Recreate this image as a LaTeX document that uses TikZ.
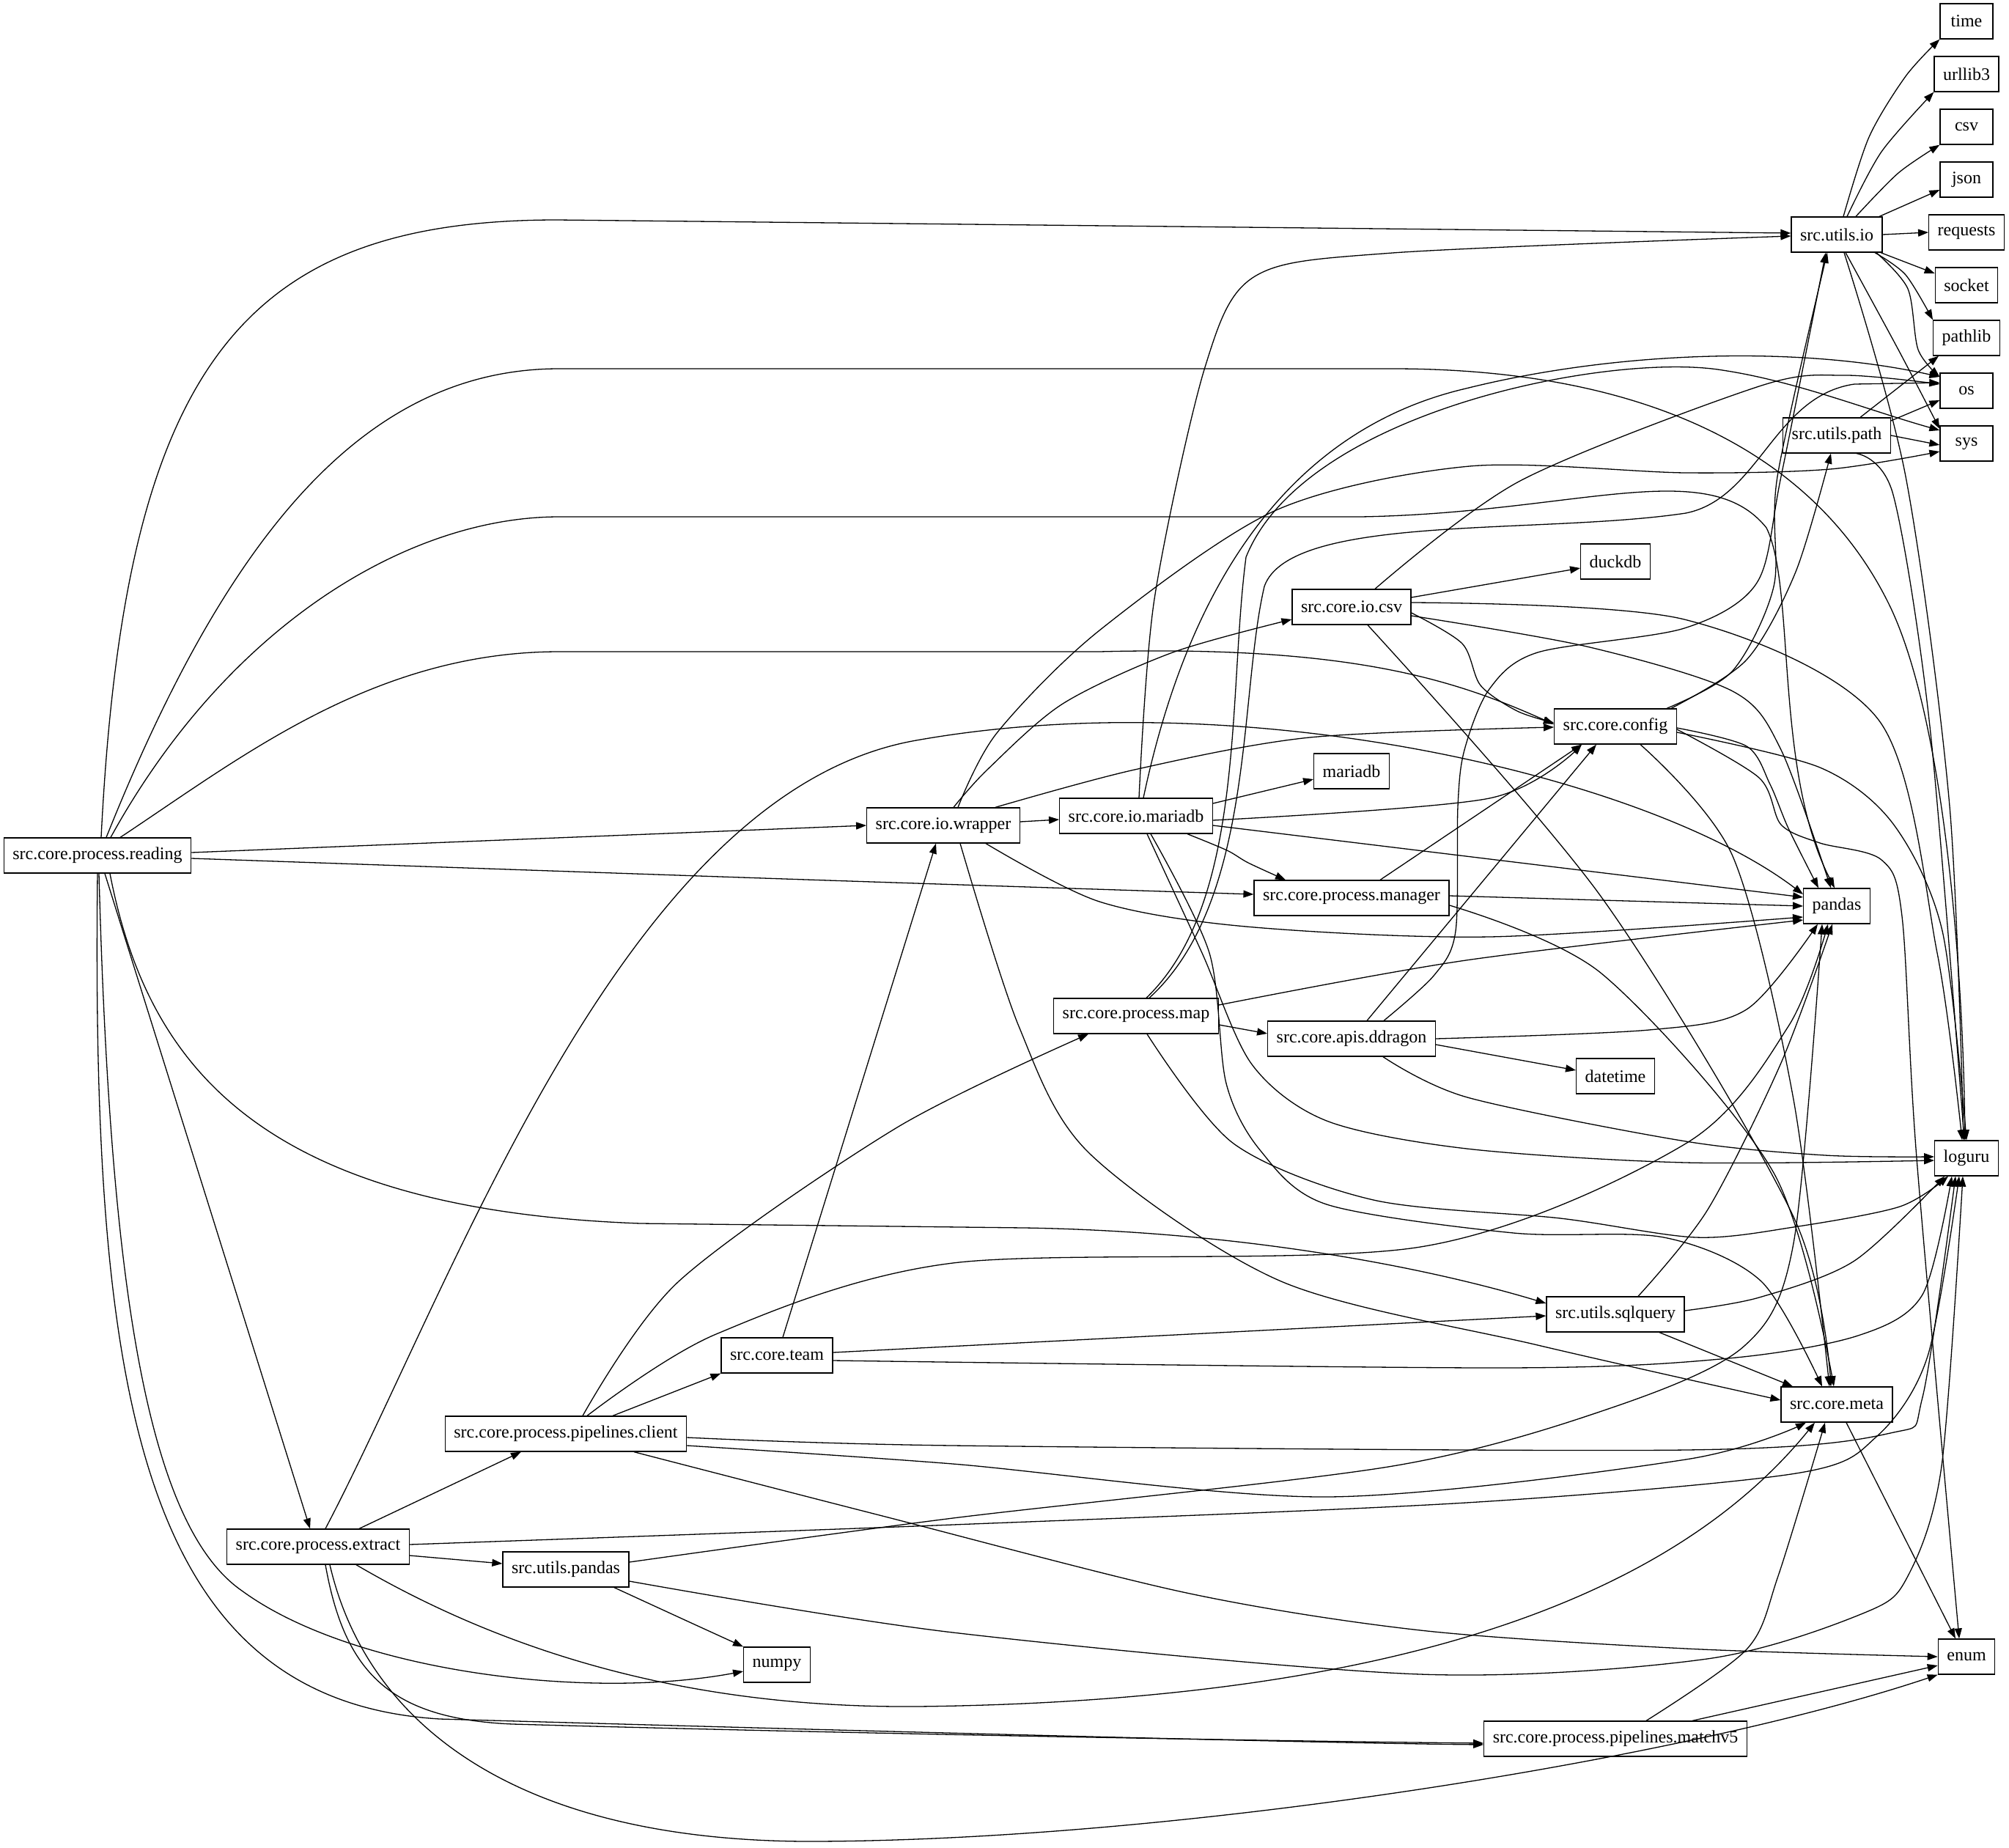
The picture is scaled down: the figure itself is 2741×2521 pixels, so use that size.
\documentclass[tikz,border=0pt]{standalone}
\usepackage{fontspec}
\setmainfont{Liberation Serif}
\usetikzlibrary{arrows.meta}
\begin{document}
\begin{tikzpicture}[x=1pt,y=-1pt,
  mod/.style={draw, line width=1.3pt, rectangle, minimum height=48pt, minimum width=72pt, inner xsep=12pt, inner ysep=0pt, font=\fontsize{24}{28}\selectfont},
  dep/.style={line width=1.3pt, -{Triangle[length=14pt,width=10pt]}}]
\fill[white] (0,0) rectangle (2741,2521);
\useasboundingbox (0,0) rectangle (2741,2521);
% nodes
\node[mod] (time) at (2683,29) {time};
\node[mod] (urllib3) at (2683,101) {urllib3};
\node[mod] (csvmod) at (2683,173) {csv};
\node[mod] (json) at (2683,245) {json};
\node[mod] (requests) at (2683,317) {requests};
\node[mod] (socket) at (2683,389) {socket};
\node[mod] (pathlib) at (2683,461) {pathlib};
\node[mod] (os) at (2683,533) {os};
\node[mod] (sys) at (2683,605) {sys};
\node[mod] (uio) at (2506,320) {src.utils.io};
\node[mod] (upath) at (2506,594) {src.utils.path};
\node[mod] (duckdb) at (2204,766) {duckdb};
\node[mod] (iocsv) at (1844,828) {src.core.io.csv};
\node[mod] (config) at (2204,991) {src.core.config};
\node[mod] (mariadbmod) at (1844,1052) {mariadb};
\node[mod] (wrapper) at (1287,1126) {src.core.io.wrapper};
\node[mod] (iomariadb) at (1550,1113) {src.core.io.mariadb};
\node[mod] (reading) at (133,1167) {src.core.process.reading};
\node[mod] (manager) at (1844,1225) {src.core.process.manager};
\node[mod] (pandas) at (2506,1236) {pandas};
\node[mod] (map) at (1550,1386) {src.core.process.map};
\node[mod] (ddragon) at (1844,1417) {src.core.apis.ddragon};
\node[mod] (datetime) at (2204,1468) {datetime};
\node[mod] (loguru) at (2683,1580) {loguru};
\node[mod] (sqlquery) at (2204,1793) {src.utils.sqlquery};
\node[mod] (team) at (1060,1849) {src.core.team};
\node[mod] (meta) at (2506,1916) {src.core.meta};
\node[mod] (client) at (772,1956) {src.core.process.pipelines.client};
\node[mod] (extract) at (434,2110) {src.core.process.extract};
\node[mod] (upandas) at (772,2141) {src.utils.pandas};
\node[mod] (numpy) at (1060,2271) {numpy};
\node[mod] (enum) at (2683,2260) {enum};
\node[mod] (matchv5) at (2204,2372) {src.core.process.pipelines.matchv5};
% src.utils.io
\draw[dep] plot[smooth] coordinates {([xshift=9pt]uio.north) (2550,187) (2600,104) (time.south west)};
\draw[dep] plot[smooth] coordinates {([xshift=14pt]uio.north) (2567,207) (urllib3.south west)};
\draw[dep] plot[smooth] coordinates {([xshift=26pt]uio.north) (2590,236) (csvmod.south west)};
\draw[dep] ([xshift=58pt]uio.north) -- ([yshift=-14pt]json.west);
\draw[dep] (uio.east) -- (requests.west);
\draw[dep] ([xshift=60pt]uio.south) -- ([yshift=16pt]socket.west);
\draw[dep] plot[smooth] coordinates {([xshift=52pt]uio.south) (2600,375) (pathlib.north west)};
\draw[dep] plot[smooth] coordinates {([xshift=54pt]uio.south) (2603,394) (2617,477) ([yshift=19pt]os.west)};
\draw[dep] plot[smooth] coordinates {([xshift=12pt]uio.south) (2590,477) ([yshift=20pt]sys.west)};
\draw[dep] plot[smooth] coordinates {([xshift=10pt]uio.south) (2600,650) (2660,1100) ([xshift=-4pt]loguru.north)};
% src.utils.path
\draw[dep] ([xshift=32pt]upath.north) -- ([xshift=8pt]pathlib.south west);
\draw[dep] ([yshift=20pt]upath.east) -- ([yshift=-13pt]os.west);
\draw[dep] (upath.east) -- ([yshift=-2pt]sys.west);
\draw[dep] plot[smooth] coordinates {([xshift=27pt]upath.south) (2583,675) (2633,991) ([xshift=-3pt]loguru.north)};
% src.core.config
\draw[dep] plot[smooth] coordinates {([xshift=70pt]config.north) (2364,915) (2420,800) (2425,650) ([xshift=-13pt]uio.south)};
\draw[dep] plot[smooth] coordinates {([xshift=76pt]config.north) (2383,900) (2450,780) ([xshift=-8pt]upath.south)};
\draw[dep] plot[smooth] coordinates {([yshift=-2pt]config.east) (2383,1018) (2415,1070) (2440,1130) ([xshift=-25pt]pandas.north)};
\draw[dep] plot[smooth] coordinates {([yshift=-4pt]config.east) (2400,1061) (2430,1125) (2483,1150) (2567,1173) (2595,1250) (2615,1580) ([xshift=-10pt]enum.north)};
\draw[dep] plot[smooth] coordinates {([yshift=-8pt]config.east) (2483,1047) (2583,1124) (2650,1270) (loguru.north)};
\draw[dep] plot[smooth] coordinates {([xshift=34pt]config.south) (2364,1168) (2447,1500) ([xshift=-10pt]meta.north)};
% src.core.io.csv
\draw[dep] ([yshift=13pt]iocsv.east) -- ([yshift=-9pt]duckdb.west);
\draw[dep] plot[smooth] coordinates {([yshift=-8pt]iocsv.east) (1995,878) (2020,935) (2070,970) ([yshift=5pt]config.west)};
\draw[dep] plot[smooth] coordinates {([yshift=-12pt]iocsv.east) (2165,882) (2364,943) (2430,1023) ([xshift=-8pt]pandas.north)};
\draw[dep] plot[smooth] coordinates {([yshift=6pt]iocsv.east) (2298,845) (2563,982) (2643,1300) ([xshift=-6pt]loguru.north)};
\draw[dep] plot[smooth] coordinates {([xshift=22pt]iocsv.south) (2185,1224) (2447,1660) ([xshift=-8pt]meta.north)};
\draw[dep] plot[smooth] coordinates {([xshift=32pt]iocsv.north) (2074,656) (2400,527) (2517,512) ([yshift=9pt]os.west)};
% src.core.io.mariadb
\draw[dep] ([yshift=17pt]iomariadb.east) -- ([yshift=-11pt]mariadbmod.west);
\draw[dep] plot[smooth] coordinates {([yshift=-6pt]iomariadb.east) (2032,1089) ([xshift=-46pt]config.south)};
\draw[dep] ([yshift=-13pt]iomariadb.east) -- ([yshift=12pt]pandas.west);
\draw[dep] plot[smooth] coordinates {([xshift=70pt]iomariadb.south) (1674,1160) (1703,1177) ([xshift=-90pt]manager.north)};
\draw[dep] plot[smooth] coordinates {([xshift=4pt]iomariadb.north) (1575,817) (1644,501) (1712,377) (1900,345) ([yshift=-2pt]uio.west)};
\draw[dep] ([xshift=10pt]iomariadb.north) .. controls (1600,900) and (1700,600) .. (2000,530) .. controls (2200,480) and (2450,470) .. ([yshift=19pt]os.west);
\draw[dep] plot[smooth] coordinates {([xshift=15pt]iomariadb.south) (1640,1300) (1708,1452) (1810,1529) (2001,1567) (2300,1586) ([yshift=-3pt]loguru.west)};
\draw[dep] plot[smooth] coordinates {([xshift=20pt]iomariadb.south) (1650,1300) (1673,1478) (1720,1570) (1810,1643) (2065,1682) (2270,1688) (2403,1748) ([xshift=-20pt]meta.north)};
% src.core.process.manager
\draw[dep] ([xshift=39pt]manager.north) -- ([xshift=-46pt]config.south);
\draw[dep] ([yshift=3pt]manager.east) -- (pandas.west);
\draw[dep] plot[smooth] coordinates {([yshift=-10pt]manager.east) (2185,1328) (2420,1600) ([xshift=-4pt]meta.north)};
% src.core.io.wrapper
\draw[dep] ([yshift=5pt]wrapper.east) -- ([yshift=-5pt]iomariadb.west);
\draw[dep] plot[smooth] coordinates {([xshift=14pt]wrapper.north) (1347,1050) (1450,960) (1600,890) ([yshift=-17pt]iocsv.west)};
\draw[dep] plot[smooth] coordinates {([xshift=71pt]wrapper.north) (1548,1050) (1787,1006) ([yshift=-1pt]config.west)};
\draw[dep] plot[smooth] coordinates {([xshift=58pt]wrapper.south) (1500,1230) (1700,1264) (2032,1278) ([yshift=-15pt]pandas.west)};
\draw[dep] plot[smooth] coordinates {([xshift=23pt]wrapper.south) (1390,1400) (1486,1573) (1748,1748) (2098,1835) ([yshift=6pt]meta.west)};
\draw[dep] plot[smooth] coordinates {([xshift=20pt]wrapper.north) (1360,1000) (1500,860) (1741,696) (2005,636) (2300,645) (2497,640) ([yshift=-11pt]sys.west)};
% src.core.process.map
\draw[dep] ([yshift=-12pt]map.east) -- ([yshift=7pt]ddragon.west);
\draw[dep] plot[smooth] coordinates {([yshift=15pt]map.east) (2000,1310) ([yshift=-19pt]pandas.west)};
\draw[dep] plot[smooth] coordinates {([xshift=15pt]map.south) (1683,1560) (1874,1637) (2129,1662) (2314,1688) (2447,1674) (2592,1646) ([xshift=-25pt]loguru.south)};
\draw[dep] ([xshift=14pt]map.north) .. controls (1700,1230) and (1675,950) .. (1700,760) .. controls (1780,560) and (2200,480) .. (2350,505) .. controls (2450,520) and (2550,560) .. ([yshift=18pt]sys.west);
\draw[dep] ([xshift=18pt]map.north) .. controls (1712,1230) and (1690,950) .. (1725,800) .. controls (1760,700) and (2100,730) .. (2300,700) .. controls (2400,680) and (2420,540) .. (2530,524) -- ([yshift=11pt]os.west);
% src.core.apis.ddragon
\draw[dep] ([yshift=-8pt]ddragon.east) -- ([yshift=8pt]datetime.west);
\draw[dep] plot[smooth] coordinates {(ddragon.east) (2250,1405) (2383,1377) ([xshift=-26pt]pandas.south)};
\draw[dep] plot[smooth] coordinates {([xshift=43pt]ddragon.south) (2002,1497) (2300,1557) (2490,1576) ([yshift=2pt]loguru.west)};
\draw[dep] ([xshift=21pt]ddragon.north) -- ([xshift=-26pt]config.south);
\draw[dep] plot[smooth] coordinates {([xshift=44pt]ddragon.north) (1957,1330) (1986,1270) (1989,1100) (1998,1023) (2032,940) (2098,890) (2298,857) (2397,795) (2430,650) ([xshift=-15pt]uio.south)};
% src.utils.sqlquery
\draw[dep] plot[smooth] coordinates {([xshift=31pt]sqlquery.north) (2330,1650) (2430,1450) ([xshift=-6pt]pandas.south)};
\draw[dep] plot[smooth] coordinates {([yshift=5pt]sqlquery.east) (2400,1770) (2530,1720) ([xshift=-30pt]loguru.south)};
\draw[dep] ([xshift=60pt]sqlquery.south) -- ([xshift=-60pt]meta.north);
% src.core.team
\draw[dep] ([xshift=8pt]team.north) -- ([xshift=-10pt]wrapper.south);
\draw[dep] ([yshift=4pt]team.east) -- ([yshift=-2pt]sqlquery.west);
\draw[dep] plot[smooth] coordinates {([yshift=-7pt]team.east) (2050,1866) (2358,1853) (2535,1822) (2623,1766) ([xshift=-20pt]loguru.south)};
% src.core.process.pipelines.client
\draw[dep] plot[smooth] coordinates {([xshift=23pt]client.north) (926,1748) (1224,1538) ([xshift=-65pt]map.south)};
\draw[dep] ([xshift=64pt]client.north) -- (team.south west);
\draw[dep] plot[smooth] coordinates {([xshift=29pt]client.north) (977,1820) (1300,1723) (1938,1701) (2300,1560) (2440,1400) ([xshift=-12pt]pandas.south)};
\draw[dep] plot[smooth] coordinates {([yshift=-5pt]client.east) (1300,1972) (2300,1978) (2579,1955) (2623,1906) ([xshift=-15pt]loguru.south)};
\draw[dep] plot[smooth] coordinates {([yshift=-16pt]client.east) (1300,1997) (1810,2042) (2300,1991) ([xshift=-42pt]meta.south)};
\draw[dep] plot[smooth] coordinates {([xshift=93pt]client.south) (1200,2067) (1619,2173) (1938,2224) (2300,2249) (enum.west)};
% matchv5 and meta
\draw[dep] plot[smooth] coordinates {([xshift=42pt]matchv5.north) (2383,2250) (2426,2150) ([xshift=-16pt]meta.south)};
\draw[dep] ([xshift=105pt]matchv5.north) -- ([yshift=-12pt]enum.west);
\draw[dep] ([xshift=13pt]meta.south) -- ([xshift=-15pt]enum.north);
% src.utils.pandas
\draw[dep] plot[smooth] coordinates {([xshift=66pt]upandas.south) (941,2213) (numpy.north west)};
\draw[dep] plot[smooth] coordinates {([yshift=10pt]upandas.east) (1300,2071) (1900,2000) (2200,1920) (2380,1836) (2447,1696) ([xshift=-20pt]pandas.south)};
\draw[dep] plot[smooth] coordinates {([yshift=-16pt]upandas.east) (1300,2227) (1938,2284) (2329,2263) (2544,2200) (2603,2150) (2649,2000) ([xshift=-5pt]loguru.south)};
% src.core.process.extract
\draw[dep] ([xshift=56pt]extract.north) -- ([xshift=-61pt]client.south);
\draw[dep] ([yshift=-12pt]extract.east) -- ([yshift=8pt]upandas.west);
\draw[dep] ([xshift=10pt]extract.north) .. controls (620,1750) and (850,1080) .. (1250,1010) .. controls (1700,930) and (2250,1060) .. ([yshift=16pt]pandas.west);
\draw[dep] plot[smooth] coordinates {([yshift=3pt]extract.east) (1300,2080) (2000,2050) (2450,2010) (2560,1960) (2630,1850) ([xshift=-10pt]loguru.south)};
\draw[dep] ([xshift=52pt]extract.south) .. controls (700,2260) and (950,2330) .. (1250,2328) .. controls (1800,2322) and (2250,2220) .. ([xshift=-30pt]meta.south);
\draw[dep] ([xshift=10pt]extract.south) .. controls (470,2280) and (530,2345) .. (700,2352) .. controls (1200,2366) and (1800,2376) .. ([yshift=-6pt]matchv5.west);
\draw[dep] ([xshift=16pt]extract.south) .. controls (500,2350) and (700,2510) .. (1100,2512) .. controls (1600,2512) and (2300,2400) .. (enum.south west);
% src.core.process.reading
\draw[dep] ([xshift=5pt]reading.north) .. controls (170,500) and (330,300) .. (760,300) -- ([yshift=2pt]uio.west);
\draw[dep] ([xshift=12pt]reading.north) .. controls (313,722) and (502,503) .. (763,503) -- (1900,503) .. controls (2250,503) and (2480,620) .. (2580,830) .. controls (2650,980) and (2678,1300) .. ([xshift=-2pt]loguru.north);
\draw[dep] ([xshift=18pt]reading.north) .. controls (311,852) and (558,705) .. (763,705) -- (1856,705) .. controls (2150,700) and (2330,620) .. (2410,720) .. controls (2450,800) and (2420,1050) .. ([xshift=-3pt]pandas.north);
\draw[dep] ([xshift=31pt]reading.north) .. controls (328,1034) and (510,889) .. (763,889) -- (1500,889) .. controls (1850,880) and (1990,930) .. ([yshift=3pt]config.west);
\draw[dep] ([yshift=4pt]reading.east) -- (wrapper.west);
\draw[dep] plot[smooth] coordinates {([yshift=-4pt]reading.east) (1100,1200) ([yshift=5pt]manager.west)};
\draw[dep] ([xshift=17pt]reading.south) .. controls (200,1450) and (350,1650) .. (874,1669) -- (1398,1675) .. controls (1700,1680) and (1950,1730) .. ([yshift=15pt]sqlquery.west);
\draw[dep] ([xshift=10pt]reading.south) -- ([xshift=-11pt]extract.north);
\draw[dep] ([xshift=2pt]reading.south) .. controls (150,1750) and (200,2080) .. (330,2170) .. controls (480,2280) and (800,2320) .. ([yshift=-9pt]numpy.west);
\draw[dep] (reading.south) .. controls (125,1900) and (190,2320) .. (600,2345) .. controls (1200,2362) and (1800,2378) .. ([yshift=-8pt]matchv5.west);
\end{tikzpicture}
\end{document}
